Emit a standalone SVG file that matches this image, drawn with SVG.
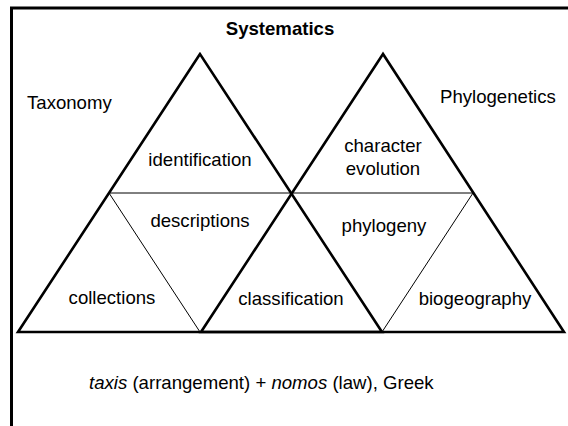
<svg xmlns="http://www.w3.org/2000/svg" width="568" height="426" viewBox="0 0 568 426">
<style>
text{font-family:"Liberation Sans",Arial,sans-serif;font-size:18.6px;fill:#000}
.c{text-anchor:middle}
.thick{fill:none;stroke:#000;stroke-width:2.6;stroke-linejoin:miter}
.thin{fill:none;stroke:#000;stroke-width:1}
</style>
<rect width="568" height="426" fill="#fff"/>
<rect x="11.5" y="8" width="620" height="500" fill="none" stroke="#000" stroke-width="3"/>
<g id="connectors">
<polygon class="thick" points="200,54 18,332 382,332"/>
<polygon class="thick" points="383,54 201,332 564,332"/>
<line class="thin" x1="109" y1="193" x2="473" y2="193"/>
<line class="thin" x1="109" y1="193" x2="200" y2="332"/>
<line class="thin" x1="473" y1="193" x2="382" y2="332"/>
</g>
<g id="title"><text class="c" x="280" y="35" font-weight="bold">Systematics</text></g>
<g id="taxonomy"><text x="27" y="109">Taxonomy</text></g>
<g id="phylogenetics"><text x="440" y="103">Phylogenetics</text></g>
<g id="identification"><text class="c" x="200" y="166">identification</text></g>
<g id="character-evolution"><text class="c" x="383" y="152">character</text><text class="c" x="383" y="175">evolution</text></g>
<g id="descriptions"><text class="c" x="200" y="227">descriptions</text></g>
<g id="phylogeny"><text class="c" x="384" y="232">phylogeny</text></g>
<g id="collections"><text class="c" x="112" y="304">collections</text></g>
<g id="classification"><text class="c" x="291" y="305">classification</text></g>
<g id="biogeography"><text class="c" x="475" y="305">biogeography</text></g>
<g id="etymology"><text x="89" y="389"><tspan font-style="italic">taxis</tspan> (arrangement) + <tspan font-style="italic">nomos</tspan> (law), Greek</text></g>
</svg>
